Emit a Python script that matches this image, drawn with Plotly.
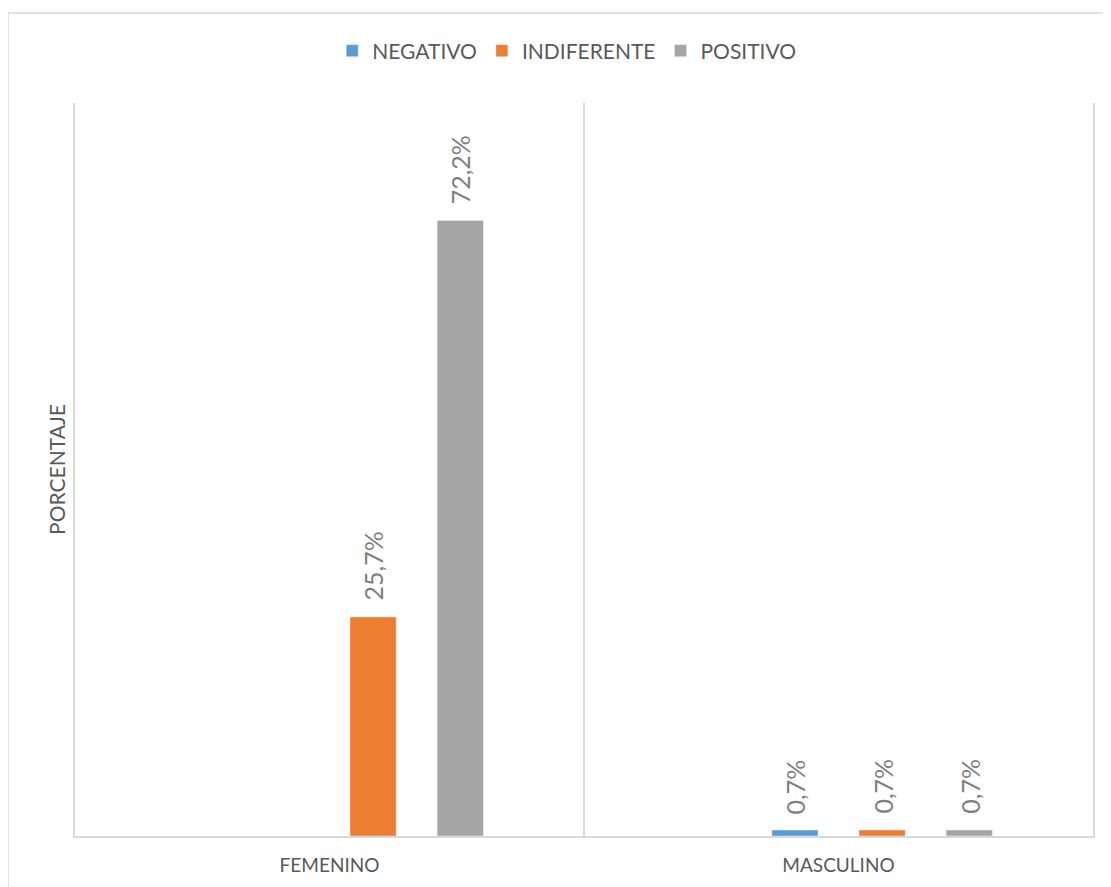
import plotly.graph_objects as go

categories = ["FEMENINO", "MASCULINO"]
blank = [None, None]
negativo = [None, 0.007]
indiferente = [0.257, 0.007]
positivo = [0.722, 0.007]

series_names = ["NEGATIVO", "INDIFERENTE", "POSITIVO"]
series_values = [negativo, indiferente, positivo]
colors = ["#5B9BD5", "#ED7D31", "#A5A5A5"]

FONT = "Lato, 'Open Sans', sans-serif"
LABEL_COLOR = "#7F7F7F"
TEXT_COLOR = "#595959"
LINE_COLOR = "#D9D9D9"

# layout geometry (page has an 8px body margin)
W, H = 1111, 887
ML, MR, MT, MB = 67, 26, 95, 59
BARGAP, GROUPGAP = 0.315, 0.47
plot_w = W - ML - MR
plot_h = H - MT - MB
n_slots = 4  # one empty leading series + 3 visible

fig = go.Figure()
# empty leading series (present in the source chart, no data)
fig.add_trace(go.Bar(x=categories, y=blank, name="", showlegend=False,
                     marker_color="rgba(0,0,0,0)", hoverinfo="skip"))
for name, vals, col in zip(series_names, series_values, colors):
    fig.add_trace(go.Bar(x=categories, y=vals, name=name, marker_color=col))

# data labels as annotations (rotated, with Excel-like gap above the bar)
cat_w = plot_w / len(categories)
slot_w = cat_w * (1 - BARGAP) / n_slots
annotations = []
for i, vals in enumerate(series_values, start=1):
    xshift = (i - (n_slots - 1) / 2) * slot_w
    for cat, v in zip(categories, vals):
        if v is None:
            continue
        annotations.append(dict(
            x=cat, y=v, xref="x", yref="y", showarrow=False,
            text=f"{v * 100:.1f}%".replace(".", ","), textangle=-90,
            xanchor="center", yanchor="bottom", xshift=xshift, yshift=14,
            font=dict(family=FONT, size=25, color=LABEL_COLOR)))

fig.update_layout(
    width=W, height=H,
    paper_bgcolor="white", plot_bgcolor="white",
    barmode="group", bargap=BARGAP, bargroupgap=GROUPGAP,
    margin=dict(l=ML, r=MR, t=MT, b=MB, autoexpand=False),
    font=dict(family=FONT, color=TEXT_COLOR),
    legend=dict(orientation="h", x=0.483, xanchor="center", y=1 + 52 / plot_h, yanchor="middle",
                font=dict(family=FONT, size=21, color=TEXT_COLOR),
                traceorder="normal", itemwidth=30),
    xaxis=dict(type="category", tickson="boundaries", showgrid=True,
               gridcolor=LINE_COLOR, gridwidth=1.5, ticks="", ticklen=0,
               showline=True, linecolor=LINE_COLOR, linewidth=1.5,
               tickfont=dict(family=FONT, size=19, color=TEXT_COLOR),
               ticklabelstandoff=11, range=[-0.5, 1.5]),
    yaxis=dict(range=[0, 0.86], showticklabels=False, showgrid=False, zeroline=False,
               ticks="", showline=True, mirror=True, linecolor=LINE_COLOR, linewidth=1.5,
               title=dict(text="PORCENTAJE", standoff=2,
                          font=dict(family=FONT, size=21, color=TEXT_COLOR))),
    annotations=annotations,
    shapes=[dict(type="rect", xref="paper", yref="paper",
                 x0=-ML / plot_w, x1=1.2, y0=-0.2, y1=1 + (MT - 5) / plot_h,
                 line=dict(color=LINE_COLOR, width=1.5), fillcolor="rgba(0,0,0,0)", layer="below")],
)

fig.write_html("out.html")
